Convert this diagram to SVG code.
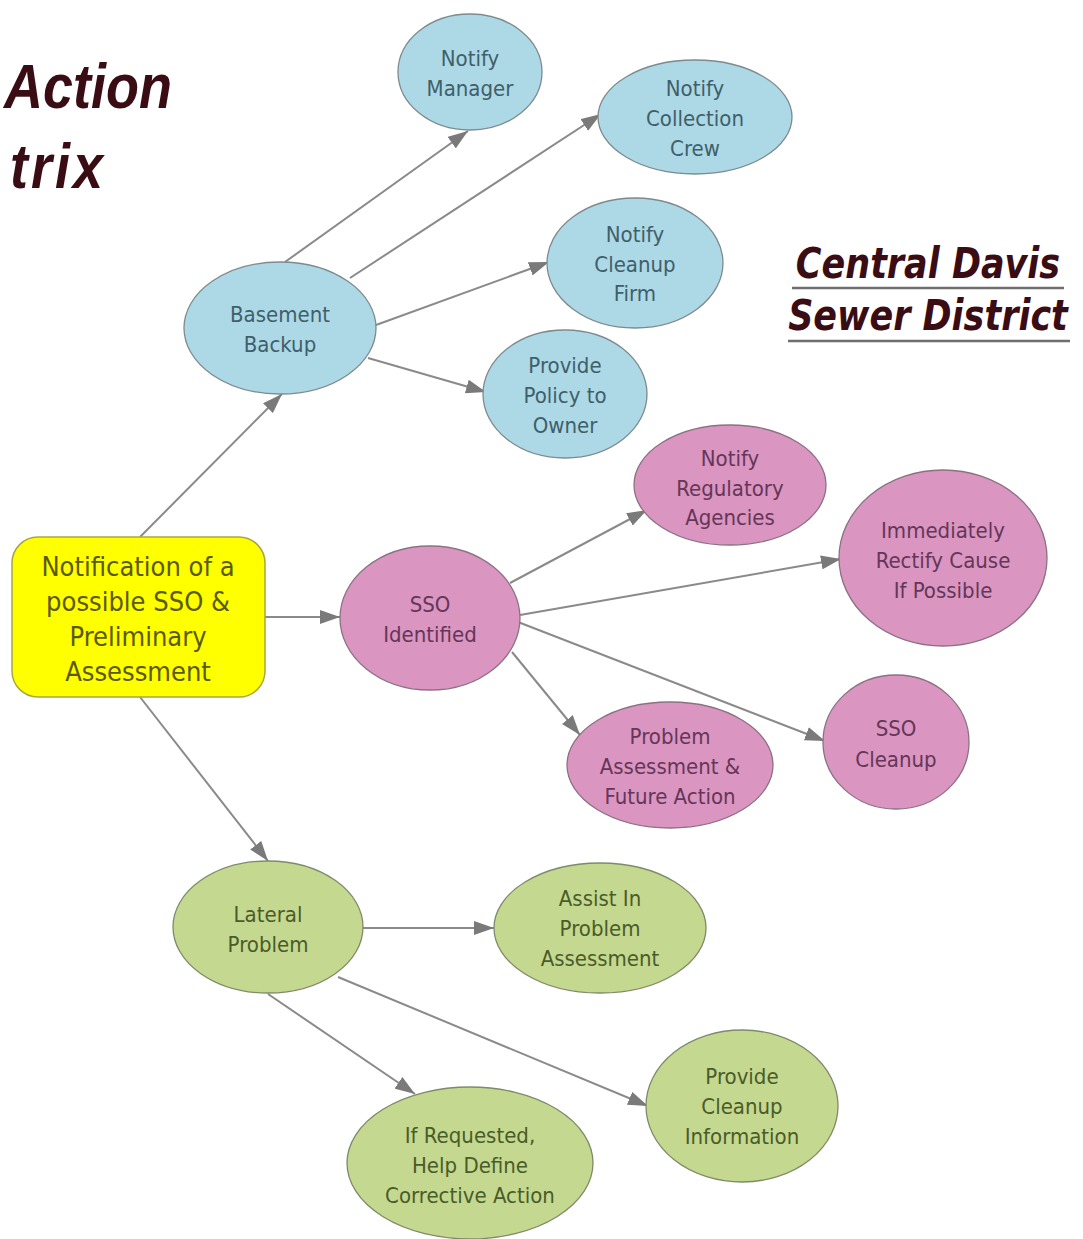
<svg xmlns="http://www.w3.org/2000/svg" width="1083" height="1239" viewBox="0 0 1083 1239">
<style>
.t{font-family:"DejaVu Sans Condensed","DejaVu Sans",sans-serif;font-stretch:condensed;font-size:22px;text-anchor:middle}
.big{font-size:27px;fill:#5a5a00}
.bl ellipse{fill:#add8e6;stroke:#7d8a8e;stroke-width:1.3}
.bl text{fill:#3f5f6a}
.pk ellipse{fill:#da95c1;stroke:#8a7282;stroke-width:1.3}
.pk text{fill:#653658}
.gr ellipse{fill:#c4d88f;stroke:#7f8a6a;stroke-width:1.3}
.gr text{fill:#4a5c2a}
.conn line{stroke:#8a8a8a;stroke-width:2;marker-end:url(#ah)}
.title{font-family:"Liberation Sans",Arial,sans-serif;font-weight:bold;font-style:italic;fill:#3a0c14;font-size:54px}
.cd{font-family:"DejaVu Sans",Verdana,sans-serif;font-weight:bold;font-style:italic;fill:#3a0c14;font-size:35px;text-anchor:middle}
</style>
<defs>
<marker id="ah" viewBox="0 0 20 14" refX="20" refY="7" markerWidth="20" markerHeight="14" orient="auto" markerUnits="userSpaceOnUse">
<path d="M0,0 L20,7 L0,14 z" fill="#7a7a7a"/>
</marker>
</defs>
<rect width="1083" height="1239" fill="#ffffff"/>

<g id="title">
<text class="title" transform="translate(172,108) scale(1,1.15)" x="0" y="0" text-anchor="end">Action</text>
<text class="title" transform="translate(10,188) scale(1,1.15)" x="0" y="0" letter-spacing="3">trix</text>
</g>
<g id="district">
<text class="cd" transform="translate(928,278) scale(1,1.2)" x="0" y="0">Central Davis</text>
<line x1="792" y1="288" x2="1064" y2="288" stroke="#6e6e6e" stroke-width="2.5"/>
<text class="cd" transform="translate(928,330) scale(1,1.2)" x="0" y="0">Sewer District</text>
<line x1="788" y1="341" x2="1070" y2="341" stroke="#6e6e6e" stroke-width="2.5"/>
</g>

<g id="connectors" class="conn">
<line x1="140" y1="537" x2="282" y2="394"/>
<line x1="265" y1="617" x2="340" y2="617"/>
<line x1="140" y1="697" x2="268" y2="861"/>
<line x1="285" y1="262" x2="468" y2="131"/>
<line x1="350" y1="278" x2="601" y2="114"/>
<line x1="376" y1="325" x2="549" y2="262"/>
<line x1="368" y1="358" x2="486" y2="392"/>
<line x1="510" y1="583" x2="647" y2="510"/>
<line x1="520" y1="615" x2="841" y2="559"/>
<line x1="512" y1="652" x2="580" y2="735"/>
<line x1="518" y1="622" x2="825" y2="741"/>
<line x1="363" y1="928" x2="494" y2="928"/>
<line x1="338" y1="977" x2="648" y2="1106"/>
<line x1="268" y1="994" x2="415" y2="1094"/>
</g>

<g id="notification">
<rect x="12" y="537" width="253" height="160" rx="26" ry="26" fill="#ffff00" stroke="#a8a840" stroke-width="1.5"/>
<text class="t big"><tspan x="138" y="576">Notification of a</tspan><tspan x="138" y="611">possible SSO &amp;</tspan><tspan x="138" y="646">Preliminary</tspan><tspan x="138" y="681">Assessment</tspan></text>
</g>

<g id="basement" class="bl">
<ellipse cx="280" cy="328" rx="96" ry="66"/>
<text class="t"><tspan x="280" y="322">Basement</tspan><tspan x="280" y="352">Backup</tspan></text>
</g>
<g id="notify-manager" class="bl">
<ellipse cx="470" cy="72" rx="72" ry="58"/>
<text class="t"><tspan x="470" y="66">Notify</tspan><tspan x="470" y="96">Manager</tspan></text>
</g>
<g id="notify-crew" class="bl">
<ellipse cx="695" cy="117" rx="97" ry="57"/>
<text class="t"><tspan x="695" y="96">Notify</tspan><tspan x="695" y="126">Collection</tspan><tspan x="695" y="156">Crew</tspan></text>
</g>
<g id="notify-firm" class="bl">
<ellipse cx="635" cy="263" rx="88" ry="65"/>
<text class="t"><tspan x="635" y="242">Notify</tspan><tspan x="635" y="272">Cleanup</tspan><tspan x="635" y="301">Firm</tspan></text>
</g>
<g id="policy" class="bl">
<ellipse cx="565" cy="394" rx="82" ry="64"/>
<text class="t"><tspan x="565" y="373">Provide</tspan><tspan x="565" y="403">Policy to</tspan><tspan x="565" y="433">Owner</tspan></text>
</g>

<g id="sso" class="pk">
<ellipse cx="430" cy="618" rx="90" ry="72"/>
<text class="t"><tspan x="430" y="612">SSO</tspan><tspan x="430" y="642">Identified</tspan></text>
</g>
<g id="regulatory" class="pk">
<ellipse cx="730" cy="485" rx="96" ry="60"/>
<text class="t"><tspan x="730" y="466">Notify</tspan><tspan x="730" y="496">Regulatory</tspan><tspan x="730" y="525">Agencies</tspan></text>
</g>
<g id="rectify" class="pk">
<ellipse cx="943" cy="558" rx="104" ry="88"/>
<text class="t"><tspan x="943" y="538">Immediately</tspan><tspan x="943" y="568">Rectify Cause</tspan><tspan x="943" y="598">If Possible</tspan></text>
</g>
<g id="problem-assessment" class="pk">
<ellipse cx="670" cy="765" rx="103" ry="63"/>
<text class="t"><tspan x="670" y="744">Problem</tspan><tspan x="670" y="774">Assessment &amp;</tspan><tspan x="670" y="804">Future Action</tspan></text>
</g>
<g id="sso-cleanup" class="pk">
<ellipse cx="896" cy="742" rx="73" ry="67"/>
<text class="t"><tspan x="896" y="736">SSO</tspan><tspan x="896" y="767">Cleanup</tspan></text>
</g>

<g id="lateral" class="gr">
<ellipse cx="268" cy="927" rx="95" ry="66"/>
<text class="t"><tspan x="268" y="922">Lateral</tspan><tspan x="268" y="952">Problem</tspan></text>
</g>
<g id="assist" class="gr">
<ellipse cx="600" cy="928" rx="106" ry="65"/>
<text class="t"><tspan x="600" y="906">Assist In</tspan><tspan x="600" y="936">Problem</tspan><tspan x="600" y="966">Assessment</tspan></text>
</g>
<g id="cleanup-info" class="gr">
<ellipse cx="742" cy="1106" rx="96" ry="76"/>
<text class="t"><tspan x="742" y="1084">Provide</tspan><tspan x="742" y="1114">Cleanup</tspan><tspan x="742" y="1144">Information</tspan></text>
</g>
<g id="corrective" class="gr">
<ellipse cx="470" cy="1163" rx="123" ry="76"/>
<text class="t"><tspan x="470" y="1143">If Requested,</tspan><tspan x="470" y="1173">Help Define</tspan><tspan x="470" y="1203">Corrective Action</tspan></text>
</g>
</svg>
